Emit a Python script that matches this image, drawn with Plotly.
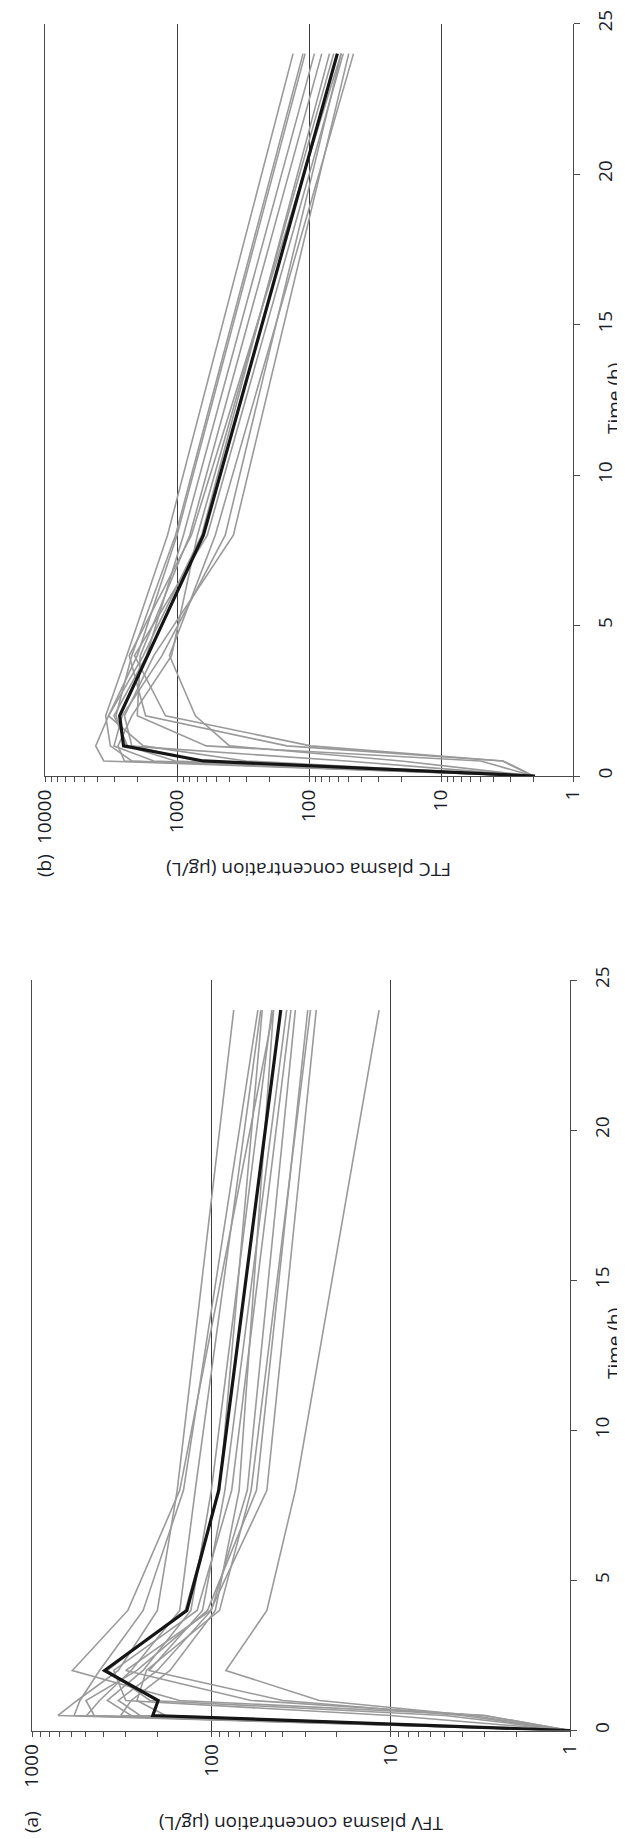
import plotly.graph_objects as go

W, H = 625, 1839

# Sampling times (h)
TIMES = [0, 0.5, 1, 2, 4, 8, 24]

# (a) TFV plasma concentration (ug/L), individual subjects
TFV_SUBJECTS = [
    [1, 716, 560, 330, 200, 155, 75],
    [1, 582, 540, 420, 240, 143, 55],
    [1, 496, 420, 280, 150, 123, 53],
    [1, 280, 380, 240, 130, 100, 46],
    [1, 3, 150, 596, 292, 150, 45],
    [1, 4, 40, 222, 112, 84, 38],
    [1, 3.5, 25, 83, 49, 34, 11.6],
    [1, 10, 300, 350, 120, 77, 36],
    [1, 250, 330, 200, 100, 63, 34],
    [1, 450, 500, 260, 105, 56, 29],
    [1, 3, 60, 300, 101, 49, 26],
    [1, 180, 260, 230, 90, 60, 28],
    [1, 320, 280, 170, 95, 70, 45],
    [1, 5, 220, 380, 140, 90, 52],
]
TFV_MEAN = [1, 212, 198, 394, 137, 91, 41]

# (b) FTC plasma concentration (ug/L), individual subjects
FTC_SUBJECTS = [
    [2, 3590, 4130, 3300, 2000, 1000, 107],
    [2, 2200, 3200, 3470, 2400, 1180, 132],
    [2, 1030, 2400, 2900, 2200, 1026, 111],
    [2, 52, 2370, 3000, 1700, 894, 91],
    [2, 3.4, 147, 1730, 2300, 778, 57],
    [2, 3.4, 97, 1222, 2100, 589, 55],
    [2, 20, 400, 726, 1140, 513, 46],
    [2, 1500, 3000, 2600, 1300, 431, 57],
    [2, 700, 2200, 2500, 1500, 374, 50],
    [2, 300, 1800, 3300, 1800, 650, 70],
    [2, 2500, 2800, 2200, 1100, 700, 65],
    [2, 5, 600, 2000, 1900, 800, 80],
]
FTC_MEAN = [1.94, 631, 2540, 2720, 1670, 631, 61]

TIME_TICKS = [0, 5, 10, 15, 20, 25]
TFV_TICKS = [1000, 100, 10, 1]
FTC_TICKS = [10000, 1000, 100, 10, 1]

FONT = "Open Sans"
FS = 19
TXT = "#1a1c28"
AX = "#4a4a4a"
GRAY = "#9a9a9a"


def minor_vals(lo_exp, hi_exp):
    vals = []
    for e in range(lo_exp, hi_exp):
        for m in range(2, 10):
            vals.append(m * 10 ** e)
    return vals


def px_x(p):
    return p / W


def px_y(p):
    return 1 - p / H


fig = go.Figure()

for s in FTC_SUBJECTS:
    fig.add_trace(go.Scatter(x=s, y=TIMES, mode="lines", xaxis="x", yaxis="y",
                             line=dict(color=GRAY, width=1.6), hoverinfo="skip"))
fig.add_trace(go.Scatter(x=FTC_MEAN, y=TIMES, mode="lines", xaxis="x", yaxis="y",
                         line=dict(color="#151515", width=3.2), hoverinfo="skip"))

for s in TFV_SUBJECTS:
    fig.add_trace(go.Scatter(x=s, y=TIMES, mode="lines", xaxis="x2", yaxis="y2",
                             line=dict(color=GRAY, width=1.6), hoverinfo="skip"))
fig.add_trace(go.Scatter(x=TFV_MEAN, y=TIMES, mode="lines", xaxis="x2", yaxis="y2",
                         line=dict(color="#151515", width=3.2), hoverinfo="skip"))


def conc_axis(domain, rng, ticks, anchor):
    return dict(
        type="log", range=rng, domain=domain, anchor=anchor, automargin=False,
        tickmode="array", tickvals=ticks, ticktext=[str(t) for t in ticks],
        tickangle=-90, ticks="outside", ticklen=5, tickwidth=1.3, tickcolor=AX,
        showline=True, linecolor=AX, linewidth=1.3,
        showgrid=True, gridcolor="#3c3c3c", gridwidth=1.3,
        zeroline=False,
        minor=dict(tickmode="array", tickvals=minor_vals(0, int(rng[0])),
                   ticks="outside", ticklen=5, tickwidth=1.3, tickcolor=AX,
                   showgrid=False),
        tickfont=dict(family=FONT, size=FS, color=TXT),
    )


def time_axis(domain, anchor):
    return dict(
        range=[0, 25], domain=domain, anchor=anchor, side="right", automargin=False,
        tickmode="array", tickvals=TIME_TICKS, ticktext=[str(t) for t in TIME_TICKS],
        tickangle=-90, ticks="outside", ticklen=6, tickwidth=1.3, tickcolor=AX,
        ticklabelstandoff=9,
        showline=True, linecolor=AX, linewidth=1.3, mirror=True,
        showgrid=False, zeroline=False,
        tickfont=dict(family=FONT, size=FS, color=TXT),
    )


fig.update_layout(
    width=W, height=H,
    margin=dict(l=0, r=0, t=0, b=0, pad=0, autoexpand=False),
    paper_bgcolor="white", plot_bgcolor="white",
    showlegend=False,
    xaxis=conc_axis([px_x(37), px_x(565)], [4, 0], FTC_TICKS, "y"),
    yaxis=time_axis([px_y(768), px_y(15.5)], "x"),
    xaxis2=conc_axis([px_x(24), px_x(562)], [3, 0], TFV_TICKS, "y2"),
    yaxis2=time_axis([px_y(1722.5), px_y(972)], "x2"),
)

annots = [
    ("Time (h)", 606, 391, -90),
    ("Time (h)", 606, 1336, -90),
    ("FTC plasma concentration (μg/L)", 301, 862, 180),
    ("TFV plasma concentration (μg/L)", 293, 1816, 180),
    ("(b)", 36, 858, -90),
    ("(a)", 23, 1814, -90),
]
for text, x, y, ang in annots:
    fig.add_annotation(text=text, x=px_x(x), y=px_y(y), xref="paper", yref="paper",
                       showarrow=False, textangle=ang, xanchor="center", yanchor="middle",
                       font=dict(family=FONT, size=FS, color=TXT))

fig.write_html("out.html")
